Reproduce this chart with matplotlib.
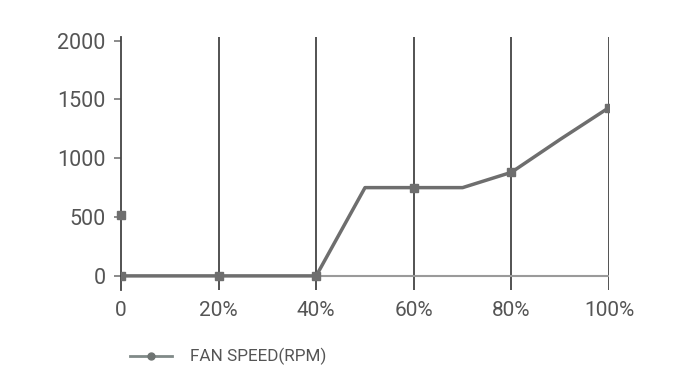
import matplotlib
matplotlib.use("Agg")
import matplotlib.pyplot as plt
from matplotlib.lines import Line2D

plt.rcParams['font.family'] = ['Roboto', 'DejaVu Sans']

# Data
duty = [0, 20, 40, 50, 60, 70, 80, 90, 100]          # PWM duty (%)
rpm = [0, 0, 0, 750, 750, 750, 880, 1160, 1430]       # fan speed (RPM)
marker_duty = [0, 20, 40, 60, 80, 100]
marker_rpm = [0, 0, 0, 750, 880, 1430]
stray_duty = [0]
stray_rpm = [515]
x_ticks = [0, 20, 40, 60, 80, 100]
x_labels = ["0", "20%", "40%", "60%", "80%", "100%"]
y_ticks = [0, 500, 1000, 1500, 2000]
series_name = "FAN SPEED(RPM)"

line_col = "#6e6e6e"
grid_col = "#444444"
text_col = "#555555"

fig = plt.figure(figsize=(7, 3.9), dpi=100)
ax = fig.add_axes([121/700, 1-290/390, 488/700, 253/390])
ax.set_xlim(0, 100)
ax.set_ylim(-120, 2030)

for s in ['top', 'right', 'bottom']:
    ax.spines[s].set_visible(False)
ax.spines['left'].set_color(grid_col)
ax.spines['left'].set_linewidth(1.3)

for xv in x_ticks[1:]:
    ax.axvline(xv, color=grid_col, lw=1.3, zorder=1)
ax.hlines(0, 0, 100, color="#9a9a9a", lw=1.5, zorder=1)

ax.plot(duty, rpm, color=line_col, lw=2.5, zorder=3)
ax.plot(marker_duty, marker_rpm, ls='none', marker='s', ms=5.5,
        color=line_col, zorder=4)
ax.plot(stray_duty, stray_rpm, ls='none', marker='s', ms=5.5,
        color=line_col, zorder=4, clip_on=False)

ax.set_yticks(y_ticks)
ax.set_yticklabels([str(v) for v in y_ticks])
ax.tick_params(axis='y', length=5, width=1.2, color="#777777",
               labelsize=15.5, labelcolor=text_col, pad=6)
ax.set_xticks([])
for xv, lab in zip(x_ticks, x_labels):
    ax.text(xv, -290, lab, ha='center', va='center', fontsize=15,
            color=text_col, transform=ax.transData, clip_on=False)

# Legend
fig.lines.append(Line2D([130/700, 172/700], [1-356/390, 1-356/390],
                        color="#808a88", lw=2, transform=fig.transFigure))
fig.lines.append(Line2D([151/700], [1-356/390], marker='o', ms=5,
                        color="#6e7472", transform=fig.transFigure))
fig.text(190/700, 1-356/390, series_name, fontsize=12.3, color=text_col,
         va='center', ha='left')

fig.savefig("out.png", dpi=100, facecolor='white')
